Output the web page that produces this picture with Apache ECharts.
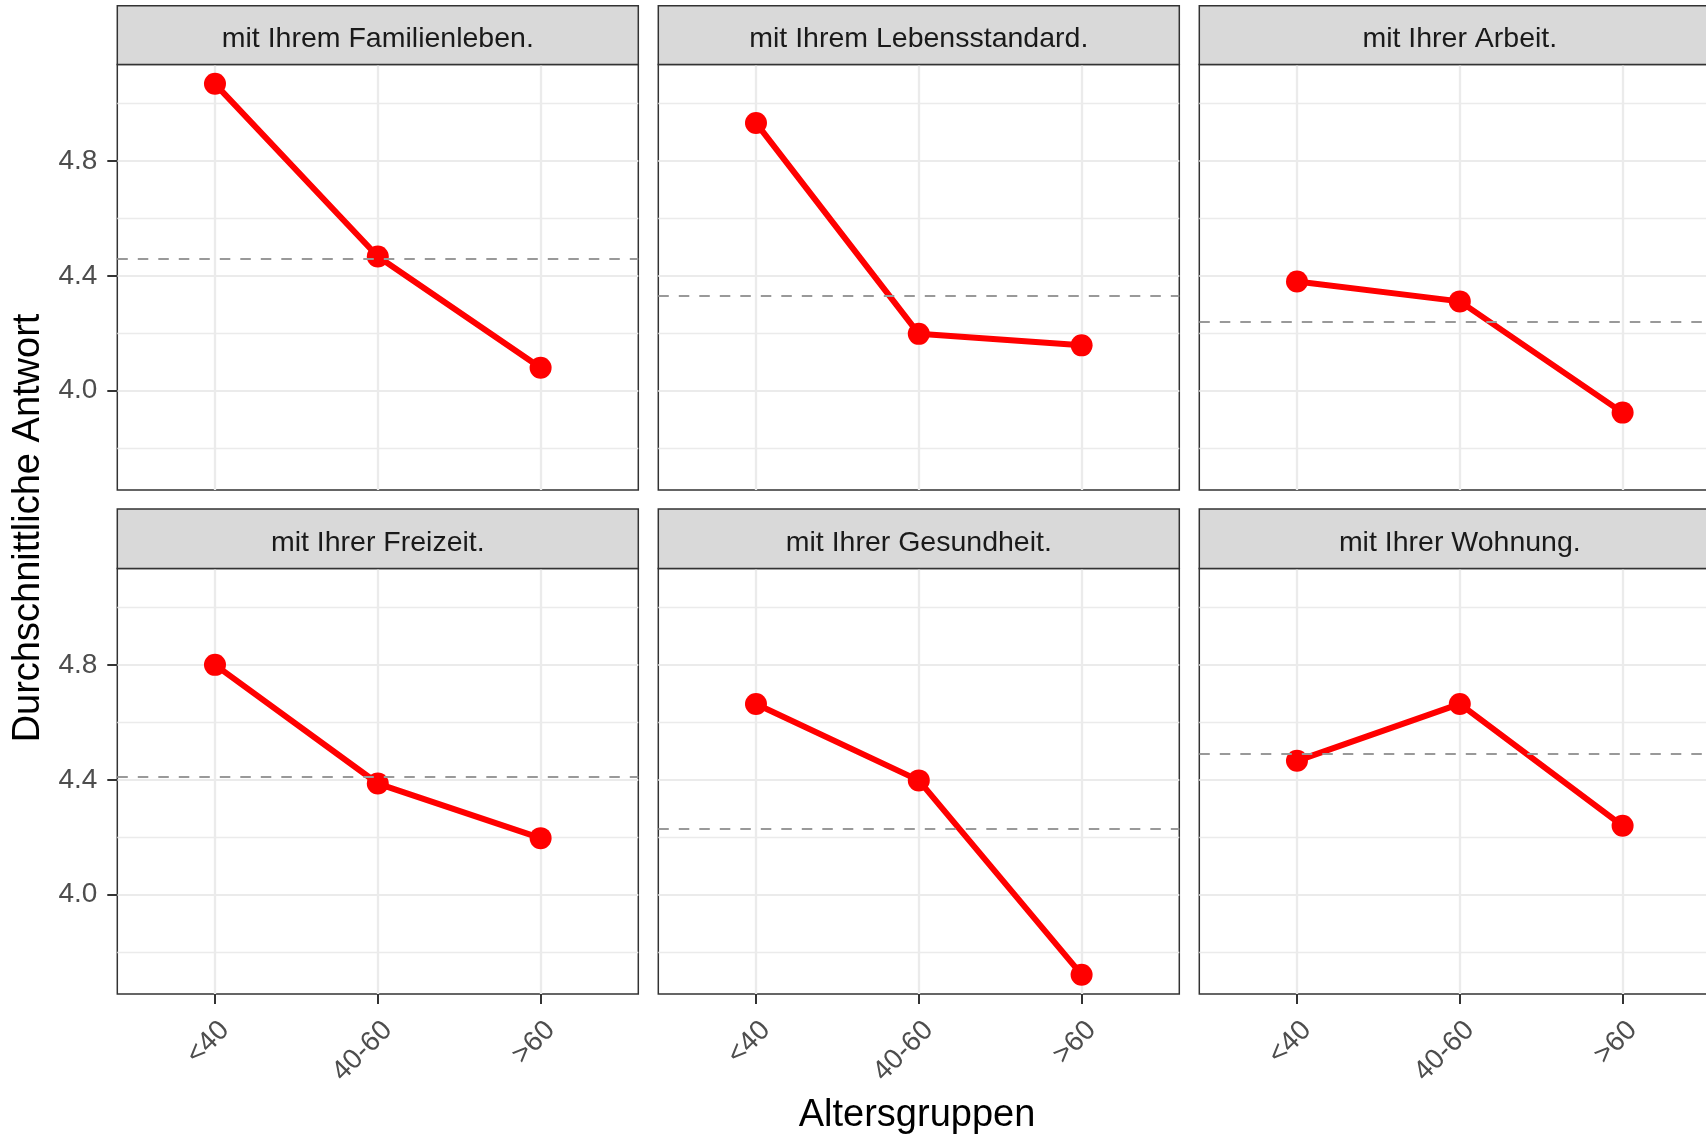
<!DOCTYPE html>
<html><head><meta charset="utf-8">
<script src="https://cdn.jsdelivr.net/npm/echarts@6/dist/echarts.min.js"></script>
<style>html,body{margin:0;padding:0;background:#fff}#c{width:1706px;height:1135px}</style>
</head><body><div id="c"></div>
<script>
// ---- data ----
const categories = ['<40', '40-60', '>60'];
const panelTitles = ['mit Ihrem Familienleben.', 'mit Ihrem Lebensstandard.', 'mit Ihrer Arbeit.',
                     'mit Ihrer Freizeit.', 'mit Ihrer Gesundheit.', 'mit Ihrer Wohnung.'];
const familienleben  = [5.068, 4.467, 4.080];
const lebensstandard = [4.932, 4.198, 4.158];
const arbeit         = [4.380, 4.311, 3.924];
const freizeit       = [4.800, 4.387, 4.197];
const gesundheit     = [4.664, 4.398, 3.722];
const wohnung        = [4.466, 4.664, 4.240];
const means          = [4.464, 4.331, 4.240, 4.407, 4.227, 4.490];
const yTicks      = [4.0, 4.4, 4.8];
const yMinorTicks = [3.8, 4.2, 4.6, 5.0];
const xTitle = 'Altersgruppen';
const yTitle = 'Durchschnittliche Antwort';

const seriesValues = [familienleben, lebensstandard, arbeit, freizeit, gesundheit, wohnung];

// ---- layout ----
const FONT = 'Liberation Sans';
const colLeft = [117.3, 658.3, 1199.3];
const panelW = 521;
const rowTop = [64.5, 568.5];
const panelH = 425.5;
const stripTop = [5.7, 509];
const stripH = [58.8, 59.5];

const all = seriesValues.flat().concat(means);
const dmin = Math.min(...all), dmax = Math.max(...all);
const pad = (dmax - dmin) * 0.05;
const yMin = dmin - pad, yMax = dmax + pad;
const catIdx = categories.map((c, j) => j);

const grids = [], xAxes = [], yAxes = [], series = [], graphics = [];
seriesValues.forEach((vals, i) => {
  const r = Math.floor(i / 3), c = i % 3;
  const bottomRow = r === 1, leftCol = c === 0;
  grids.push({left: colLeft[c], top: rowTop[r], width: panelW, height: panelH,
    outerBoundsMode: 'none', containLabel: false,
    show: true, borderColor: '#333333', borderWidth: 1.5, backgroundColor: '#ffffff'});
  xAxes.push({type: 'value', gridIndex: i, min: -0.6, max: 2.6, position: 'bottom',
    axisLine: {show: false, onZero: false},
    axisTick: {show: bottomRow, customValues: catIdx, length: 10, lineStyle: {color: '#333333', width: 2}},
    axisLabel: {show: bottomRow, customValues: catIdx, formatter: v => categories[Math.round(v)],
      rotate: 45, align: 'right', verticalAlign: 'top', margin: 22, fontSize: 28, color: '#4D4D4D', fontFamily: FONT},
    splitLine: {show: true, lineStyle: {color: '#EBEBEB', width: 2.3}}
  });
  yAxes.push({type: 'value', gridIndex: i, min: yMin, max: yMax, position: 'left',
    axisLine: {show: false, onZero: false},
    axisTick: {show: leftCol, customValues: yTicks, length: 10, lineStyle: {color: '#333333', width: 2}},
    axisLabel: {show: leftCol, customValues: yTicks, formatter: v => v.toFixed(1),
      margin: 20, fontSize: 28, color: '#4D4D4D', fontFamily: FONT},
    splitLine: {show: true, lineStyle: {color: '#EBEBEB', width: 2.2}}
  });
  yAxes.push({type: 'value', gridIndex: i, min: yMin, max: yMax, position: 'left',
    axisLine: {show: false, onZero: false},
    axisTick: {show: false, customValues: yMinorTicks},
    axisLabel: {show: false, customValues: yMinorTicks},
    splitLine: {show: true, lineStyle: {color: '#EBEBEB', width: 1.3}}
  });
  series.push({type: 'line', xAxisIndex: i, yAxisIndex: 2 * i,
    data: categories.map((cat, j) => [j, vals[j]]),
    symbol: 'circle', symbolSize: 22, showAllSymbol: true,
    lineStyle: {color: '#FF0000', width: 6}, itemStyle: {color: '#FF0000'},
    animation: false, silent: true,
    markLine: {silent: true, symbol: ['none', 'none'], label: {show: false}, animation: false,
      lineStyle: {color: '#999999', type: [10.5, 10], width: 2.2},
      data: [{yAxis: means[i]}]}
  });
  graphics.push({type: 'rect', shape: {x: colLeft[c], y: stripTop[r], width: panelW, height: stripH[r]},
    style: {fill: '#D9D9D9', stroke: '#333333', lineWidth: 1.5}, z: 10});
  graphics.push({type: 'text', x: colLeft[c] + panelW / 2, y: stripTop[r] + stripH[r] / 2 + 4, z: 11,
    style: {text: panelTitles[i], fontSize: 28.5, fontFamily: FONT, fill: '#1A1A1A',
      textAlign: 'center', textVerticalAlign: 'middle'}});
});
graphics.push({type: 'text', x: 917, y: 1116, z: 11,
  style: {text: xTitle, fontSize: 38, fontFamily: FONT, fill: '#000000', textAlign: 'center', textVerticalAlign: 'middle'}});
graphics.push({type: 'text', x: 29, y: 528, rotation: Math.PI / 2, z: 11,
  style: {text: yTitle, fontSize: 38, fontFamily: FONT, fill: '#000000', textAlign: 'center', textVerticalAlign: 'middle'}});

const chart = echarts.init(document.getElementById('c'), null, {renderer: 'canvas'});
chart.setOption({
  animation: false,
  backgroundColor: '#ffffff',
  textStyle: {fontFamily: FONT},
  grid: grids, xAxis: xAxes, yAxis: yAxes, series: series, graphic: graphics
});
</script></body></html>
